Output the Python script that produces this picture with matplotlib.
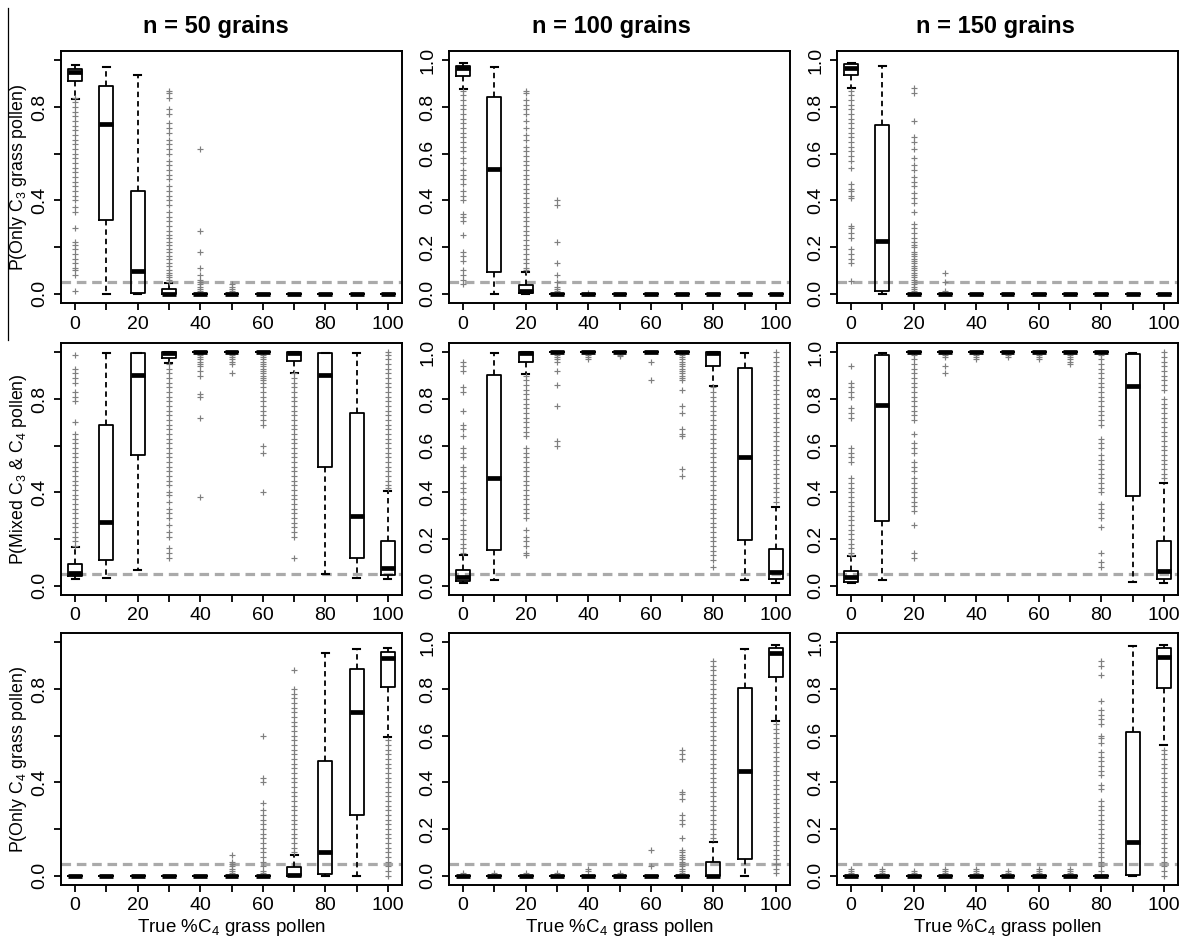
import matplotlib
matplotlib.use("Agg")
import matplotlib.pyplot as plt
from matplotlib.lines import Line2D

plt.rcParams['font.family'] = ['Liberation Sans', 'DejaVu Sans']
plt.rcParams['mathtext.fontset'] = 'custom'
plt.rcParams['mathtext.rm'] = 'Liberation Sans'

# true %C4 grass pollen (box positions)
pct_c4 = [0, 10, 20, 30, 40, 50, 60, 70, 80, 90, 100]
grain_counts = [50, 100, 150]

Z = (0.0, 0.0, 0.0, 0.0, 0.0)
ONE = (1.0, 1.0, 1.0, 1.0, 1.0)

# boxes: (lower whisker, q1, median, q3, upper whisker) for each % C4
only_c3_50 = [(0.835, 0.91, 0.95, 0.965, 0.98), (0.0, 0.315, 0.727, 0.89, 0.97),
              (0.0, 0.003, 0.097, 0.44, 0.937), (0.0, 0.0, 0.0, 0.021, 0.045),
              Z, Z, Z, Z, Z, Z, Z]
only_c3_100 = [(0.876, 0.933, 0.966, 0.976, 0.99), (0.0, 0.093, 0.536, 0.844, 0.973),
               (0.0, 0.003, 0.01, 0.036, 0.093), Z, Z, Z, Z, Z, Z, Z, Z]
only_c3_150 = [(0.88, 0.936, 0.969, 0.984, 0.99), (0.0, 0.011, 0.226, 0.721, 0.976),
               Z, Z, Z, Z, Z, Z, Z, Z, Z]

mixed_50 = [(0.027, 0.041, 0.056, 0.091, 0.167), (0.034, 0.11, 0.274, 0.687, 0.996),
            (0.067, 0.56, 0.903, 0.996, 0.998), (0.953, 0.977, 0.998, 1.0, 1.0),
            ONE, ONE, ONE, (0.91, 0.963, 0.998, 1.0, 1.0),
            (0.05, 0.51, 0.903, 0.996, 0.998), (0.034, 0.117, 0.30, 0.741, 0.996),
            (0.027, 0.046, 0.074, 0.19, 0.407)]
mixed_100 = [(0.013, 0.021, 0.039, 0.067, 0.13), (0.024, 0.153, 0.463, 0.903, 0.996),
             (0.907, 0.96, 0.998, 1.0, 1.0), ONE, ONE, ONE, ONE, ONE,
             (0.857, 0.943, 0.998, 1.0, 1.0), (0.024, 0.196, 0.553, 0.931, 0.996),
             (0.013, 0.027, 0.057, 0.156, 0.336)]
mixed_150 = [(0.01, 0.017, 0.039, 0.064, 0.127), (0.023, 0.279, 0.773, 0.989, 0.996),
             ONE, ONE, ONE, ONE, ONE, ONE, ONE,
             (0.017, 0.386, 0.856, 0.991, 0.996), (0.013, 0.027, 0.064, 0.193, 0.44)]

only_c4_50 = [Z, Z, Z, Z, Z, Z, Z, (0.0, 0.0, 0.003, 0.036, 0.089),
              (0.0, 0.007, 0.10, 0.491, 0.953), (0.0, 0.26, 0.70, 0.884, 0.97),
              (0.596, 0.81, 0.934, 0.96, 0.977)]
only_c4_100 = [Z, Z, Z, Z, Z, Z, Z, Z, (0.0, 0.0, 0.0, 0.057, 0.146),
               (0.0, 0.07, 0.449, 0.803, 0.971), (0.664, 0.85, 0.953, 0.974, 0.989)]
only_c4_150 = [Z, Z, Z, Z, Z, Z, Z, Z, Z, (0.0, 0.003, 0.146, 0.615, 0.984),
               (0.559, 0.806, 0.938, 0.974, 0.989)]

# outliers, keyed by % C4
only_c3_50_out = {
    0: [0.84, 0.82, 0.80, 0.78, 0.76, 0.74, 0.72, 0.70, 0.68, 0.66, 0.64, 0.62, 0.60, 0.58,
        0.56, 0.54, 0.52, 0.50, 0.48, 0.46, 0.44, 0.42, 0.40, 0.37, 0.35, 0.28, 0.22, 0.21,
        0.19, 0.17, 0.15, 0.13, 0.11, 0.10, 0.08, 0.01],
    30: [0.87, 0.86, 0.84, 0.79, 0.77, 0.73, 0.71, 0.69, 0.66, 0.64, 0.62, 0.60, 0.57, 0.55,
         0.53, 0.51, 0.49, 0.46, 0.44, 0.42, 0.40, 0.38, 0.35, 0.33, 0.31, 0.29, 0.27, 0.25,
         0.24, 0.22, 0.21, 0.19, 0.18, 0.16, 0.15, 0.13, 0.12, 0.10, 0.09, 0.08, 0.07, 0.06,
         0.05],
    40: [0.62, 0.27, 0.18, 0.11, 0.08, 0.06, 0.05, 0.04, 0.03, 0.02, 0.01],
    50: [0.04, 0.03, 0.02, 0.01],
}
only_c3_100_out = {
    0: [0.87, 0.85, 0.83, 0.81, 0.79, 0.77, 0.75, 0.73, 0.71, 0.69, 0.67, 0.65, 0.63, 0.61,
        0.58, 0.56, 0.53, 0.51, 0.49, 0.47, 0.44, 0.42, 0.40, 0.34, 0.33, 0.31, 0.25, 0.18,
        0.16, 0.14, 0.10, 0.08, 0.06, 0.04],
    20: [0.87, 0.86, 0.83, 0.81, 0.79, 0.77, 0.74, 0.71, 0.68, 0.66, 0.63, 0.61, 0.59, 0.57,
         0.55, 0.53, 0.51, 0.49, 0.47, 0.45, 0.43, 0.41, 0.39, 0.37, 0.35, 0.33, 0.31, 0.29,
         0.27, 0.25, 0.23, 0.21, 0.19, 0.17, 0.15, 0.13, 0.11, 0.10],
    30: [0.40, 0.38, 0.22, 0.13, 0.08, 0.05, 0.03, 0.02, 0.01],
    40: [0.005],
}
only_c3_150_out = {
    0: [0.87, 0.85, 0.83, 0.81, 0.79, 0.77, 0.75, 0.73, 0.71, 0.69, 0.67, 0.65, 0.63, 0.61,
        0.59, 0.57, 0.54, 0.47, 0.45, 0.44, 0.42, 0.41, 0.29, 0.28, 0.26, 0.24, 0.19, 0.17,
        0.15, 0.13, 0.055],
    20: [0.88, 0.86, 0.74, 0.67, 0.65, 0.62, 0.58, 0.55, 0.53, 0.50, 0.48, 0.46, 0.43, 0.41,
         0.39, 0.35, 0.30, 0.28, 0.26, 0.24, 0.22, 0.21, 0.20, 0.18, 0.17, 0.16, 0.15, 0.14,
         0.13, 0.12, 0.11, 0.10, 0.09, 0.08, 0.07, 0.06, 0.05, 0.04, 0.03, 0.02, 0.01],
    30: [0.09, 0.05, 0.01],
}

mixed_50_out = {
    0: [0.99, 0.93, 0.91, 0.89, 0.87, 0.83, 0.81, 0.79, 0.70, 0.65, 0.63, 0.61, 0.59, 0.57,
        0.55, 0.53, 0.51, 0.49, 0.47, 0.45, 0.43, 0.41, 0.39, 0.37, 0.35, 0.33, 0.31, 0.29,
        0.27, 0.25, 0.23, 0.21, 0.19, 0.17],
    30: [0.95, 0.93, 0.91, 0.89, 0.87, 0.85, 0.83, 0.81, 0.79, 0.77, 0.75, 0.73, 0.71, 0.69,
         0.67, 0.65, 0.63, 0.61, 0.59, 0.57, 0.55, 0.53, 0.51, 0.49, 0.47, 0.45, 0.43, 0.40,
         0.39, 0.36, 0.33, 0.31, 0.29, 0.26, 0.23, 0.21, 0.16, 0.14, 0.12],
    40: [0.995, 0.99, 0.98, 0.97, 0.96, 0.95, 0.94, 0.92, 0.90, 0.82, 0.81, 0.72, 0.38],
    50: [0.995, 0.99, 0.98, 0.97, 0.96, 0.95, 0.91],
    60: [0.99, 0.98, 0.97, 0.96, 0.95, 0.94, 0.93, 0.92, 0.91, 0.90, 0.89, 0.88, 0.87, 0.85,
         0.83, 0.81, 0.79, 0.77, 0.75, 0.73, 0.71, 0.69, 0.60, 0.57, 0.40],
    70: [0.91, 0.89, 0.87, 0.85, 0.83, 0.81, 0.79, 0.77, 0.75, 0.73, 0.71, 0.69, 0.67, 0.65,
         0.63, 0.61, 0.59, 0.57, 0.55, 0.53, 0.51, 0.49, 0.47, 0.45, 0.43, 0.41, 0.39, 0.37,
         0.35, 0.33, 0.31, 0.29, 0.27, 0.25, 0.23, 0.21, 0.12],
    100: [1.0, 0.99, 0.97, 0.95, 0.93, 0.91, 0.89, 0.87, 0.85, 0.83, 0.81, 0.79, 0.77, 0.75,
          0.73, 0.71, 0.69, 0.67, 0.65, 0.63, 0.61, 0.59, 0.57, 0.55, 0.53, 0.51, 0.49, 0.47,
          0.45, 0.43, 0.42],
}
mixed_100_out = {
    0: [0.96, 0.94, 0.92, 0.85, 0.83, 0.75, 0.69, 0.67, 0.64, 0.59, 0.57, 0.55, 0.51, 0.49,
        0.47, 0.44, 0.42, 0.40, 0.37, 0.35, 0.33, 0.31, 0.28, 0.26, 0.24, 0.22, 0.20, 0.18,
        0.16, 0.14],
    20: [0.90, 0.88, 0.86, 0.84, 0.82, 0.80, 0.78, 0.76, 0.74, 0.72, 0.70, 0.68, 0.66, 0.64,
         0.59, 0.57, 0.55, 0.53, 0.51, 0.49, 0.47, 0.45, 0.43, 0.41, 0.39, 0.37, 0.35, 0.33,
         0.31, 0.29, 0.24, 0.21, 0.19, 0.17, 0.14, 0.13],
    30: [0.99, 0.98, 0.97, 0.96, 0.92, 0.86, 0.77, 0.62, 0.60],
    40: [0.99, 0.98, 0.97],
    50: [0.99, 0.985],
    60: [0.96, 0.88],
    70: [0.99, 0.98, 0.97, 0.96, 0.95, 0.94, 0.93, 0.92, 0.91, 0.90, 0.89, 0.88, 0.84, 0.77,
         0.74, 0.67, 0.65, 0.64, 0.50, 0.47],
    80: [0.85, 0.83, 0.81, 0.79, 0.77, 0.75, 0.73, 0.71, 0.69, 0.67, 0.65, 0.63, 0.61, 0.59,
         0.57, 0.55, 0.53, 0.51, 0.49, 0.47, 0.45, 0.43, 0.41, 0.39, 0.37, 0.35, 0.33, 0.31,
         0.29, 0.27, 0.25, 0.23, 0.21, 0.19, 0.17, 0.15, 0.13, 0.11, 0.08],
    100: [1.0, 0.98, 0.96, 0.94, 0.92, 0.90, 0.88, 0.86, 0.84, 0.82, 0.80, 0.78, 0.76, 0.74,
          0.72, 0.70, 0.68, 0.66, 0.64, 0.62, 0.60, 0.58, 0.56, 0.54, 0.52, 0.50, 0.48, 0.46,
          0.44, 0.42, 0.40, 0.38, 0.36],
}
mixed_150_out = {
    0: [0.94, 0.87, 0.85, 0.83, 0.81, 0.76, 0.74, 0.72, 0.59, 0.57, 0.55, 0.53, 0.46, 0.44,
        0.42, 0.40, 0.38, 0.36, 0.34, 0.32, 0.30, 0.28, 0.26, 0.24, 0.22, 0.20, 0.18, 0.16,
        0.14, 0.13],
    20: [0.99, 0.97, 0.95, 0.93, 0.91, 0.89, 0.87, 0.85, 0.83, 0.81, 0.79, 0.77, 0.75, 0.73,
         0.71, 0.65, 0.61, 0.59, 0.57, 0.53, 0.51, 0.49, 0.46, 0.44, 0.42, 0.40, 0.38, 0.36,
         0.34, 0.32, 0.26, 0.14, 0.12],
    30: [0.99, 0.98, 0.94, 0.91],
    40: [0.99, 0.98, 0.97],
    50: [0.99, 0.98],
    60: [0.99, 0.98, 0.97],
    70: [0.99, 0.98, 0.97, 0.96, 0.95],
    80: [0.99, 0.97, 0.95, 0.93, 0.91, 0.89, 0.87, 0.85, 0.83, 0.81, 0.79, 0.77, 0.75, 0.73,
         0.71, 0.69, 0.63, 0.61, 0.59, 0.56, 0.54, 0.52, 0.50, 0.48, 0.46, 0.44, 0.42, 0.40,
         0.35, 0.33, 0.31, 0.29, 0.25, 0.14, 0.10, 0.08],
    100: [1.0, 0.98, 0.96, 0.94, 0.92, 0.90, 0.88, 0.86, 0.84, 0.80, 0.78, 0.76, 0.74, 0.72,
          0.70, 0.68, 0.66, 0.64, 0.62, 0.60, 0.58, 0.56, 0.54, 0.52, 0.50, 0.48, 0.46],
}

only_c4_50_out = {
    50: [0.09, 0.06, 0.05, 0.04, 0.03, 0.02, 0.01],
    60: [0.60, 0.42, 0.40, 0.31, 0.28, 0.26, 0.24, 0.22, 0.20, 0.18, 0.16, 0.14, 0.12, 0.10,
         0.08, 0.06, 0.04, 0.02, 0.01],
    70: [0.88, 0.80, 0.78, 0.76, 0.74, 0.72, 0.70, 0.68, 0.66, 0.64, 0.62, 0.60, 0.58, 0.56,
         0.54, 0.52, 0.50, 0.48, 0.46, 0.44, 0.42, 0.40, 0.38, 0.36, 0.34, 0.32, 0.30, 0.28,
         0.26, 0.24, 0.22, 0.20, 0.18, 0.16, 0.14, 0.12, 0.10],
    100: [0.58, 0.56, 0.54, 0.52, 0.50, 0.48, 0.46, 0.44, 0.42, 0.40, 0.38, 0.36, 0.34, 0.32,
          0.30, 0.28, 0.26, 0.24, 0.22, 0.20, 0.18, 0.16, 0.14, 0.12, 0.10, 0.08, 0.06, 0.04,
          0.02, 0.0],
}
only_c4_100_out = {
    0: [0.01], 10: [0.01], 20: [0.01], 30: [0.01], 40: [0.03, 0.02], 50: [0.01],
    60: [0.11, 0.04],
    70: [0.54, 0.52, 0.50, 0.36, 0.35, 0.33, 0.26, 0.24, 0.22, 0.16, 0.11, 0.10, 0.09, 0.08,
         0.07, 0.06, 0.05, 0.04, 0.03, 0.02, 0.01],
    80: [0.92, 0.90, 0.88, 0.86, 0.84, 0.82, 0.80, 0.78, 0.76, 0.74, 0.72, 0.70, 0.68, 0.66,
         0.64, 0.62, 0.60, 0.58, 0.56, 0.54, 0.52, 0.50, 0.48, 0.46, 0.44, 0.42, 0.40, 0.38,
         0.36, 0.34, 0.32, 0.30, 0.28, 0.26, 0.24, 0.22, 0.20, 0.18, 0.16],
    100: [0.65, 0.63, 0.61, 0.59, 0.57, 0.55, 0.53, 0.51, 0.49, 0.47, 0.45, 0.43, 0.41, 0.39,
          0.37, 0.35, 0.33, 0.31, 0.29, 0.27, 0.25, 0.23, 0.21, 0.19, 0.17, 0.15, 0.13, 0.11,
          0.09, 0.07, 0.05, 0.03, 0.01],
}
only_c4_150_out = {
    0: [0.03, 0.02, 0.01], 10: [0.03, 0.02, 0.01], 20: [0.02, 0.01], 30: [0.03, 0.02, 0.01],
    40: [0.03, 0.02, 0.01], 50: [0.02, 0.01], 60: [0.03, 0.02, 0.01], 70: [0.03, 0.02, 0.01],
    80: [0.92, 0.90, 0.86, 0.75, 0.71, 0.69, 0.67, 0.65, 0.60, 0.59, 0.57, 0.53, 0.51, 0.49,
         0.47, 0.45, 0.43, 0.39, 0.37, 0.32, 0.30, 0.28, 0.26, 0.24, 0.22, 0.20, 0.18, 0.16,
         0.14, 0.12, 0.10, 0.08, 0.06, 0.04, 0.02],
    100: [0.54, 0.52, 0.50, 0.48, 0.46, 0.44, 0.42, 0.40, 0.38, 0.36, 0.34, 0.32, 0.30, 0.28,
          0.26, 0.24, 0.22, 0.20, 0.18, 0.16, 0.14, 0.12, 0.10, 0.08, 0.06, 0.04, 0.02, 0.0],
}

row_labels = [r'P(Only C$\mathregular{_3}$ grass pollen)',
              r'P(Mixed C$\mathregular{_3}$ & C$\mathregular{_4}$ pollen)',
              r'P(Only C$\mathregular{_4}$ grass pollen)']
x_label = r'True %C$\mathregular{_4}$ grass pollen'
threshold = 0.05

panels = [[(only_c3_50, only_c3_50_out), (only_c3_100, only_c3_100_out), (only_c3_150, only_c3_150_out)],
          [(mixed_50, mixed_50_out), (mixed_100, mixed_100_out), (mixed_150, mixed_150_out)],
          [(only_c4_50, only_c4_50_out), (only_c4_100, only_c4_100_out), (only_c4_150, only_c4_150_out)]]

W, H = 1185, 943
fig = plt.figure(figsize=(W / 100, H / 100), dpi=100)

lefts = [61, 449, 837]
tops = [51, 343, 633]
pw, ph = 341, 252
title_x = [216, 611, 995]
FS = 14

for r in range(3):
    for c in range(3):
        boxes, outs = panels[r][c]
        ax = fig.add_axes([lefts[c] / W, 1 - (tops[r] + ph) / H, pw / W, ph / H])
        stats = []
        for x, b in zip(pct_c4, boxes):
            stats.append(dict(whislo=b[0], q1=b[1], med=b[2], q3=b[3], whishi=b[4],
                              fliers=outs.get(x, [])))
        ax.axhline(threshold, color='#aaaaaa', lw=2.3, dashes=(3, 1.8), zorder=1)
        ax.bxp(stats, positions=pct_c4, widths=4.4, capwidths=2.2, manage_ticks=False,
               boxprops=dict(color='black', lw=1.3),
               medianprops=dict(color='black', lw=3.4, solid_capstyle='butt'),
               whiskerprops=dict(color='black', lw=1.3, linestyle=(0, (3, 2.2))),
               capprops=dict(color='black', lw=1.5),
               flierprops=dict(marker='+', markeredgecolor='#7f7f7f', markersize=4.5,
                               markeredgewidth=0.85, linestyle='none'))
        ax.set_xlim(-4.5, 104.5)
        ax.set_ylim(-0.04, 1.04)
        ax.set_xticks(pct_c4)
        ax.set_xticklabels([str(v) if v % 20 == 0 else '' for v in pct_c4], fontsize=FS)
        yt = [0.0, 0.2, 0.4, 0.6, 0.8, 1.0]
        ax.set_yticks(yt)
        if c == 0:
            ax.set_yticklabels(['0.0', '', '0.4', '', '0.8', ''], fontsize=FS)
        else:
            ax.set_yticklabels(['%.1f' % v for v in yt], fontsize=FS)
        for lab in ax.get_yticklabels():
            lab.set_rotation(90)
            lab.set_va('center')
        ax.tick_params(length=5, width=1.3, pad=4, colors='black')
        for s in ax.spines.values():
            s.set_linewidth(1.4)

        if r == 0:
            fig.text(title_x[c] / W, 1 - 26 / H, 'n = %d grains' % grain_counts[c],
                     ha='center', va='center', fontsize=17, fontweight='bold')
        if c == 0:
            fig.text(19 / W, 1 - (tops[r] + ph / 2) / H, row_labels[r], rotation=90,
                     ha='center', va='center', fontsize=12.8)
        if r == 2:
            fig.text((lefts[c] + pw / 2) / W, 1 - 928 / H, x_label,
                     ha='center', va='center', fontsize=13.5)

# thin rule on the left edge of the source page
fig.add_artist(Line2D([8 / W, 8 / W], [1 - 8 / H, 1 - 340 / H], color='black', lw=0.9))

fig.savefig('out.png', dpi=100)
